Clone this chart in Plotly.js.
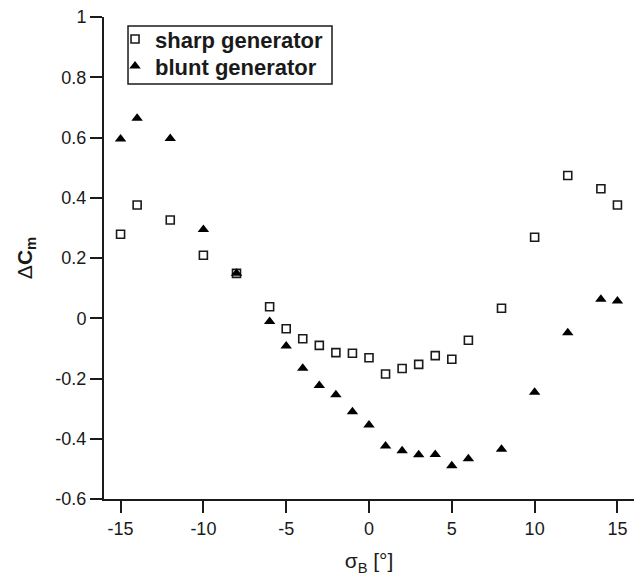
<!DOCTYPE html>
<html>
<head>
<meta charset="utf-8">
<script src="https://cdn.plot.ly/plotly-3.0.1.min.js"></script>
<style>html,body{margin:0;padding:0;background:#fff;}#chart{width:638px;height:576px;}</style>
</head>
<body>
<div id="chart"></div>
<script>
const sigmaSharp = [-15, -14, -12, -10, -8, -6, -5, -4, -3, -2, -1, 0, 1, 2, 3, 4, 5, 6, 8, 10, 12, 14, 15];
const dCmSharp = [0.279, 0.376, 0.326, 0.209, 0.149, 0.038, -0.035, -0.068, -0.090, -0.114, -0.116, -0.131, -0.185, -0.167, -0.153, -0.124, -0.136, -0.073, 0.033, 0.269, 0.474, 0.430, 0.376];
const sigmaBlunt = [-15, -14, -12, -10, -8, -6, -5, -4, -3, -2, -1, 0, 1, 2, 3, 4, 5, 6, 8, 10, 12, 14, 15];
const dCmBlunt = [0.595, 0.664, 0.597, 0.295, 0.149, -0.011, -0.092, -0.166, -0.223, -0.254, -0.310, -0.354, -0.424, -0.440, -0.453, -0.452, -0.490, -0.466, -0.435, -0.246, -0.048, 0.063, 0.057];

const xTickVals = [-15, -10, -5, 0, 5, 10, 15];
const xTickText = ["-15", "-10", "-5", "0", "5", "10", "15"];
const yTickVals = [-0.6, -0.4, -0.2, 0, 0.2, 0.4, 0.6, 0.8, 1];
const yTickText = ["-0.6", "-0.4", "-0.2", "0", "0.2", "0.4", "0.6", "0.8", "1"];

const font = "Liberation Sans, Arial, Helvetica, sans-serif";
const ink = "#1a1a1a";

const traces = [
  {
    x: sigmaSharp, y: dCmSharp, mode: "markers", type: "scatter",
    name: "<b>sharp generator</b>", legend: "legend",
    marker: {symbol: "square-open", size: 8, color: ink, line: {width: 1.6, color: ink}}
  },
  {
    x: sigmaBlunt, y: dCmBlunt, mode: "markers", type: "scatter",
    name: "<b>blunt generator</b>", legend: "legend2",
    marker: {symbol: "triangle-up", size: 10, color: "#000"}
  }
];

const legendCommon = {
  xanchor: "left", yanchor: "middle",
  bgcolor: "rgba(0,0,0,0)", borderwidth: 0,
  font: {family: font, size: 22, color: ink},
  itemwidth: 30
};

const layout = {
  width: 638, height: 576,
  margin: {l: 104, r: 4, t: 17, b: 77},
  paper_bgcolor: "#fff", plot_bgcolor: "#fff",
  font: {family: font, size: 18, color: ink},
  showlegend: true,
  legend: Object.assign({}, legendCommon, {x: 0.0208, y: 0.954}),
  legend2: Object.assign({}, legendCommon, {x: 0.0208, y: 0.898}),
  shapes: [{
    type: "rect", xref: "paper", yref: "paper", layer: "below",
    x0: 0.0453, x1: 0.4302, y0: 0.8610, y1: 0.9813,
    line: {color: ink, width: 1.5}, fillcolor: "#fff"
  }],
  xaxis: {
    range: [-16, 16], showgrid: false, zeroline: false,
    showline: true, linewidth: 2, linecolor: ink,
    ticks: "outside", ticklen: 12, tickwidth: 2, tickcolor: ink,
    tickmode: "array", tickvals: xTickVals, ticktext: xTickText,
    tickfont: {family: font, size: 18, color: ink},
    title: {text: "σ<sub>B</sub> [°]", font: {family: font, size: 21, color: ink}, standoff: 16}
  },
  yaxis: {
    range: [-0.6, 1], showgrid: false, zeroline: false,
    showline: true, linewidth: 2, linecolor: ink,
    ticks: "outside", ticklen: 12, tickwidth: 2, tickcolor: ink,
    tickmode: "array", tickvals: yTickVals, ticktext: yTickText,
    tickfont: {family: font, size: 18, color: ink},
    title: {text: "Δ<b>C<sub>m</sub></b>", font: {family: font, size: 21, color: ink}, standoff: 17}
  }
};

Plotly.newPlot("chart", traces, layout, {displayModeBar: false, staticPlot: true});
</script>
</body>
</html>
